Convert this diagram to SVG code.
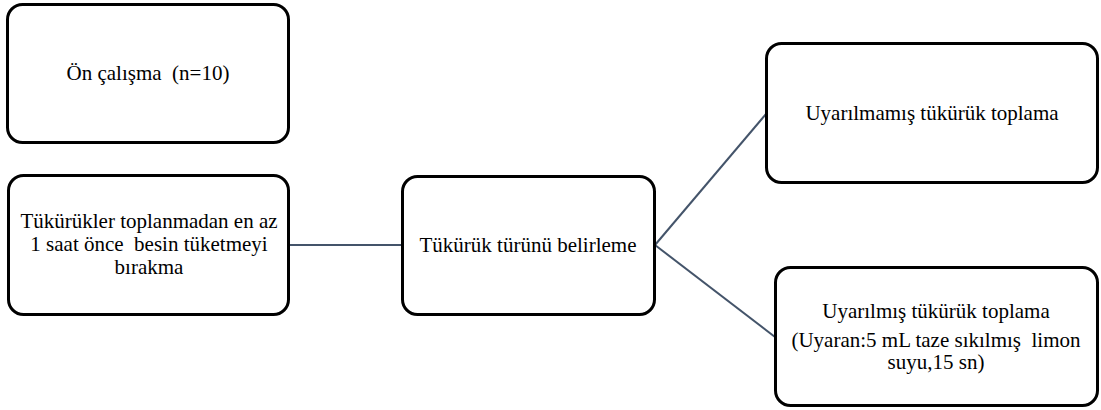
<svg xmlns="http://www.w3.org/2000/svg" width="1101" height="410" viewBox="0 0 1101 410">
<style>
.box{fill:#fff;stroke:#000;stroke-width:3}
text{font-family:'Liberation Serif', 'Times New Roman', serif;font-size:21px;fill:#000;text-anchor:middle;white-space:pre}
.c{stroke:#44546a;stroke-width:2;fill:none}
</style>
<rect width="1101" height="410" fill="#fff"/>
<g id="connectors">
<line class="c" x1="289" y1="245" x2="402" y2="245"/>
<line class="c" x1="655" y1="245" x2="766" y2="114"/>
<line class="c" x1="655" y1="245" x2="775" y2="337"/>
</g>
<g id="n1">
<rect class="box" x="7.5" y="4.5" width="281" height="138" rx="15"/>
<text x="148" y="80">Ön çalışma  (n=10)</text>
</g>
<g id="n2">
<rect class="box" x="8.5" y="175.5" width="280" height="139" rx="15"/>
<text x="149" y="228">Tükürükler toplanmadan en az</text>
<text x="149" y="251">1 saat önce  besin tüketmeyi</text>
<text x="149" y="274">bırakma</text>
</g>
<g id="n3">
<rect class="box" x="402.5" y="176.5" width="252" height="138" rx="15"/>
<text x="528" y="252">Tükürük türünü belirleme</text>
</g>
<g id="n4">
<rect class="box" x="766.5" y="43.5" width="331" height="139" rx="15"/>
<text x="932" y="120">Uyarılmamış tükürük toplama</text>
</g>
<g id="n5">
<rect class="box" x="775.5" y="267.5" width="322" height="138" rx="15"/>
<text x="936" y="318">Uyarılmış tükürük toplama</text>
<text x="936" y="347">(Uyaran:5 mL taze sıkılmış  limon</text>
<text x="936" y="369">suyu,15 sn)</text>
</g>
</svg>
